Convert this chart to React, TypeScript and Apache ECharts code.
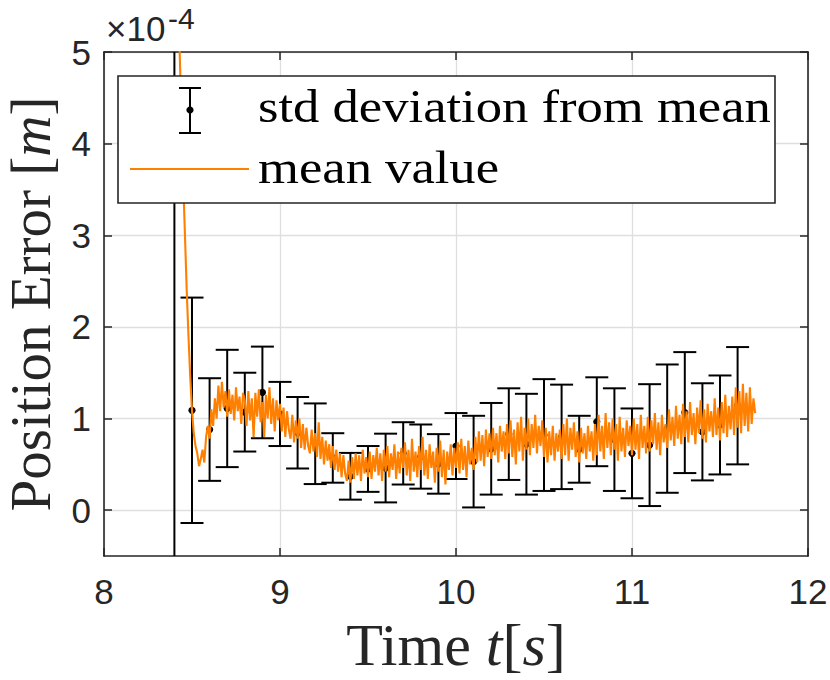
import React, { useEffect, useRef } from "react";
import * as echarts from "echarts";

// Error bar samples (std deviation from mean), units of 1e-4 m
const errX = [8.4, 8.5, 8.6, 8.7, 8.8, 8.9, 9.0, 9.1, 9.2, 9.3, 9.4, 9.5, 9.6, 9.7, 9.8, 9.9, 10.0, 10.1, 10.2, 10.3, 10.4, 10.5, 10.6, 10.7, 10.8, 10.9, 11.0, 11.1, 11.2, 11.3, 11.4, 11.5, 11.6];
const errMean = [7.5, 1.09, 0.88, 1.11, 1.07, 1.285, 1.05, 0.845, 0.725, 0.57, 0.37, 0.45, 0.46, 0.62, 0.585, 0.505, 0.7, 0.53, 0.67, 0.83, 0.72, 0.82, 0.8, 0.665, 0.965, 0.77, 0.62, 0.71, 0.89, 1.065, 0.855, 0.93, 1.14];
const errStd = [8.5, 1.23, 0.56, 0.64, 0.43, 0.5, 0.35, 0.39, 0.44, 0.27, 0.255, 0.25, 0.375, 0.34, 0.35, 0.325, 0.36, 0.5, 0.5, 0.5, 0.55, 0.61, 0.57, 0.365, 0.485, 0.56, 0.49, 0.665, 0.7, 0.66, 0.53, 0.54, 0.64];

// Mean value, sampled every 0.01 s from 8.40 s
const meanStart = 840; // hundredths of a second
const meanValues = [
  7.5, 6.2, 5.5, 5.0, 4.3, 3.6, 3.0, 2.4, 1.9, 1.45,
  1.09, 0.84, 0.70, 0.62, 0.48, 0.56, 0.66, 0.52, 0.80, 0.92,
  0.78, 1.10, 0.92, 1.22, 1.00, 1.36, 1.08, 1.40, 1.12, 1.30,
  1.02, 1.32, 1.05, 1.26, 0.98, 1.34, 1.08, 1.24, 0.94, 1.28,
  1.20, 0.92, 1.30, 0.98, 1.22, 0.80, 1.28, 1.02, 1.32, 0.96,
  1.18, 0.80, 1.26, 1.00, 1.34, 0.94, 1.22, 0.86, 1.20, 0.98,
  1.16, 0.86, 1.12, 0.80, 1.08, 0.88, 0.78, 1.04, 0.74, 0.98,
  0.78, 1.00, 0.68, 0.94, 0.66, 0.90, 0.70, 0.62, 0.88, 0.64,
  0.84, 0.58, 0.96, 0.56, 0.80, 0.50, 0.76, 0.54, 0.72, 0.46,
  0.70, 0.44, 0.66, 0.42, 0.62, 0.36, 0.60, 0.40, 0.32, 0.54,
  0.30, 0.58, 0.34, 0.62, 0.38, 0.60, 0.32, 0.66, 0.40, 0.58,
  0.36, 0.64, 0.34, 0.60, 0.42, 0.68, 0.38, 0.62, 0.32, 0.66,
  0.42, 0.70, 0.36, 0.62, 0.44, 0.72, 0.34, 0.64, 0.40, 0.68,
  0.46, 0.74, 0.38, 0.66, 0.32, 0.78, 0.42, 0.64, 0.36, 0.70,
  0.44, 0.80, 0.38, 0.66, 0.34, 0.72, 0.46, 0.64, 0.30, 0.68,
  0.42, 0.76, 0.36, 0.66, 0.28, 0.64, 0.44, 0.72, 0.38, 0.68,
  0.46, 0.74, 0.40, 0.78, 0.44, 0.70, 0.36, 0.76, 0.50, 0.68,
  0.44, 0.80, 0.52, 0.86, 0.54, 0.82, 0.48, 0.88, 0.58, 0.84,
  0.56, 0.90, 0.60, 0.84, 0.52, 0.92, 0.64, 0.86, 0.56, 0.94,
  0.62, 0.98, 0.58, 0.88, 0.50, 0.96, 0.64, 1.02, 0.54, 0.90,
  0.66, 1.00, 0.60, 0.94, 0.68, 1.04, 0.62, 0.92, 0.70, 0.98,
  0.58, 0.90, 0.52, 0.86, 0.60, 0.92, 0.54, 0.84, 0.64, 0.88,
  0.56, 0.94, 0.60, 1.00, 0.54, 0.90, 0.66, 0.96, 0.58, 0.86,
  0.52, 0.90, 0.62, 0.84, 0.56, 0.92, 0.64, 0.86, 0.54, 0.94,
  0.60, 1.04, 0.64, 0.92, 0.56, 1.06, 0.68, 0.96, 0.60, 1.00,
  0.66, 0.94, 0.54, 1.02, 0.64, 0.90, 0.58, 0.98, 0.70, 0.92,
  0.60, 1.00, 0.66, 0.94, 0.56, 1.04, 0.68, 0.92, 0.62, 1.02,
  0.64, 0.98, 0.72, 1.06, 0.66, 0.96, 0.60, 1.04, 0.74, 0.94,
  0.68, 1.10, 0.76, 1.02, 0.70, 1.14, 0.78, 1.04, 0.72, 1.16,
  0.80, 1.08, 0.74, 1.18, 0.82, 1.06, 0.72, 1.12, 0.84, 1.20,
  0.78, 1.10, 0.74, 1.16, 0.86, 1.08, 0.80, 1.22, 0.82, 1.12,
  0.76, 1.18, 0.84, 1.26, 0.80, 1.14, 0.88, 1.24, 0.82, 1.34,
  0.90, 1.30, 0.84, 1.38, 0.92, 1.28, 0.86, 1.34, 0.94, 1.22,
  1.06,
];

const xTicks = [8, 9, 10, 11, 12];
const yTicks = [0, 1, 2, 3, 4, 5];
const legendLabels = ["std deviation from mean", "mean value"];

const AXIS = "#262626";
const GRIDC = "#dfdfdf";
const ORANGE = "#ff8000";
const SANS = "'Liberation Sans', Arial, Helvetica, sans-serif";
const SERIF = "'Liberation Serif', 'Times New Roman', serif";

export default function App() {
  const ref = useRef<HTMLDivElement>(null);
  useEffect(() => {
    if (!ref.current) return;
    const chart = echarts.init(ref.current, null, { renderer: "svg" });
    const errData = errX.map((x, i) => [x, errMean[i], errStd[i]]);
    const meanData = meanValues.map((v, i) => [(meanStart + i) / 100, v]);

    const baseAxisLine = { show: true, onZero: false, lineStyle: { color: AXIS, width: 1.6 } };
    const baseTick = { show: true, inside: true, length: 8, lineStyle: { color: AXIS, width: 1.5 } };

    const option: any = {
      animation: false,
      backgroundColor: "#ffffff",
      grid: { left: 104, right: 22, top: 52, bottom: 124, containLabel: false, outerBoundsMode: "none" },
      xAxis: [
        {
          type: "value",
          position: "bottom",
          min: 8,
          max: 12,
          interval: 1,
          axisLine: baseAxisLine,
          axisTick: baseTick,
          axisLabel: {
            show: true,
            color: AXIS,
            fontFamily: SANS,
            fontSize: 35,
            margin: 18,
            customValues: xTicks,
          },
          splitLine: { show: true, lineStyle: { color: GRIDC, width: 1.3 } },
          name: "{r|Time }{i|t}{r|[}{i|s}{r|]}",
          nameLocation: "middle",
          nameGap: 58,
          nameTextStyle: {
            rich: {
              r: { fontFamily: SERIF, fontSize: 60, lineHeight: 62, color: AXIS },
              i: { fontFamily: SERIF, fontSize: 60, lineHeight: 62, color: AXIS, fontStyle: "italic" },
            },
          },
        },
        {
          type: "value",
          position: "top",
          min: 8,
          max: 12,
          interval: 1,
          axisLine: baseAxisLine,
          axisTick: baseTick,
          axisLabel: { show: false },
          splitLine: { show: false },
        },
      ],
      yAxis: [
        {
          type: "value",
          position: "left",
          min: -0.5,
          max: 5,
          axisLine: baseAxisLine,
          axisTick: { ...baseTick, customValues: yTicks },
          axisLabel: {
            show: true,
            color: AXIS,
            fontFamily: SANS,
            fontSize: 35,
            margin: 13,
            customValues: yTicks,
          },
          splitLine: { show: true, lineStyle: { color: GRIDC, width: 1.3 } },
          name: "{r|Position Error [}{i|m}{r|]}",
          nameLocation: "middle",
          nameGap: 48,
          nameRotate: 90,
          nameTextStyle: {
            rich: {
              r: { fontFamily: SERIF, fontSize: 57, lineHeight: 52, color: AXIS },
              i: { fontFamily: SERIF, fontSize: 57, lineHeight: 52, color: AXIS, fontStyle: "italic" },
            },
          },
        },
        {
          type: "value",
          position: "right",
          min: -0.5,
          max: 5,
          axisLine: baseAxisLine,
          axisTick: { ...baseTick, customValues: yTicks },
          axisLabel: { show: false },
          splitLine: { show: false },
        },
      ],
      series: [
        {
          name: legendLabels[0],
          type: "custom",
          xAxisIndex: 0,
          yAxisIndex: 0,
          clip: true,
          z: 2,
          data: errData,
          renderItem: (params: any, api: any) => {
            const x = api.value(0);
            const m = api.value(1);
            const s = api.value(2);
            const c = api.coord([x, m]);
            const t = api.coord([x, m + s]);
            const b = api.coord([x, m - s]);
            const hw = 11.5;
            const st = { stroke: "#000000", lineWidth: 2 };
            return {
              type: "group",
              children: [
                { type: "line", shape: { x1: c[0], y1: t[1], x2: c[0], y2: b[1] }, style: st },
                { type: "line", shape: { x1: c[0] - hw, y1: t[1], x2: c[0] + hw, y2: t[1] }, style: st },
                { type: "line", shape: { x1: c[0] - hw, y1: b[1], x2: c[0] + hw, y2: b[1] }, style: st },
                { type: "circle", shape: { cx: c[0], cy: c[1], r: 3.6 }, style: { fill: "#000000" } },
              ],
            };
          },
        },
        {
          name: legendLabels[1],
          type: "line",
          xAxisIndex: 0,
          yAxisIndex: 0,
          z: 3,
          showSymbol: false,
          symbol: "none",
          clip: true,
          data: meanData,
          lineStyle: { color: ORANGE, width: 2.1 },
        },
      ],
      graphic: [
        // exponent label
        {
          type: "text",
          x: 106,
          y: 46,
          z: 20,
          style: { text: "×10", fontFamily: SANS, fontSize: 35, fill: AXIS, verticalAlign: "bottom", textAlign: "left" },
        },
        {
          type: "text",
          x: 168,
          y: 33,
          z: 20,
          style: { text: "-4", fontFamily: SANS, fontSize: 30, fill: AXIS, verticalAlign: "bottom", textAlign: "left" },
        },
        // legend
        {
          type: "rect",
          z: 20,
          shape: { x: 118, y: 76, width: 657, height: 127 },
          style: { fill: "#ffffff", stroke: AXIS, lineWidth: 1.6 },
        },
        { type: "line", z: 21, shape: { x1: 190, y1: 88, x2: 190, y2: 133 }, style: { stroke: "#000", lineWidth: 2 } },
        { type: "line", z: 21, shape: { x1: 179, y1: 88, x2: 201, y2: 88 }, style: { stroke: "#000", lineWidth: 2 } },
        { type: "line", z: 21, shape: { x1: 179, y1: 133, x2: 201, y2: 133 }, style: { stroke: "#000", lineWidth: 2 } },
        { type: "circle", z: 21, shape: { cx: 190, cy: 110, r: 3.6 }, style: { fill: "#000" } },
        { type: "line", z: 21, shape: { x1: 130, y1: 169, x2: 249, y2: 169 }, style: { stroke: ORANGE, lineWidth: 2 } },
        {
          type: "text",
          z: 21,
          x: 258,
          y: 106,
          scaleX: 1.12,
          style: { text: legendLabels[0], x: 0, y: 0, fontFamily: SERIF, fontSize: 47, fill: "#000", verticalAlign: "middle", textAlign: "left" },
        },
        {
          type: "text",
          z: 21,
          x: 258,
          y: 167,
          scaleX: 1.12,
          style: { text: legendLabels[1], x: 0, y: 0, fontFamily: SERIF, fontSize: 47, fill: "#000", verticalAlign: "middle", textAlign: "left" },
        },
      ],
    };
    chart.setOption(option);
    return () => chart.dispose();
  }, []);
  return <div ref={ref} style={{ position: "absolute", left: 0, top: 0, width: 830, height: 680, background: "#fff" }} />;
}
